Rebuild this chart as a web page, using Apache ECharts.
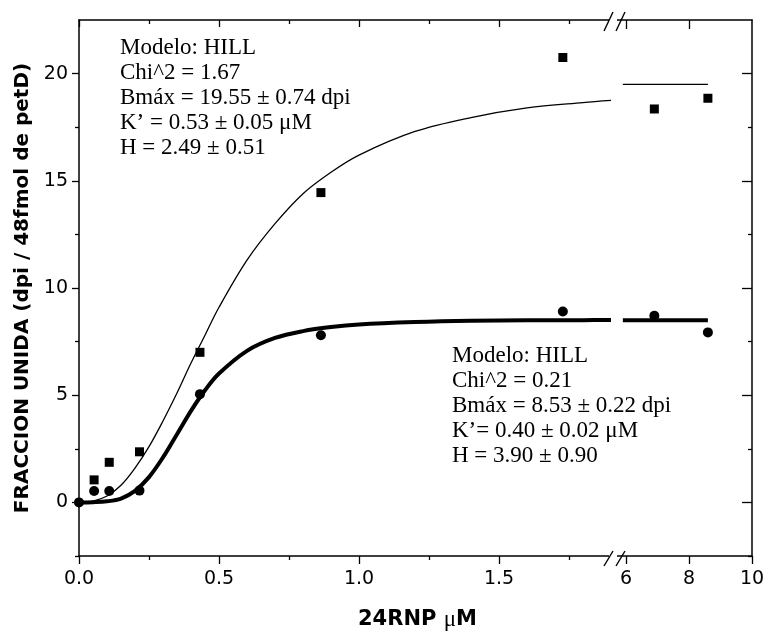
<!DOCTYPE html>
<html>
<head>
<meta charset="utf-8">
<script src="https://cdn.jsdelivr.net/npm/echarts@6/dist/echarts.min.js"></script>
<style>
  html, body { margin: 0; padding: 0; background: #fff; }
  #chart { width: 769px; height: 639px; }
</style>
</head>
<body>
<div id="chart"></div>
<script>
// measured points (24RNP concentration, uM)
var conc = [0, 0.054, 0.108, 0.216, 0.432, 0.864, 1.728, 6.9, 8.6];
var squareVals = [null, 1.05, 1.87, 2.36, 7.0, 14.45, 20.75, 18.35, 18.85];
var circleVals = [0, 0.53, 0.53, 0.55, 5.05, 7.8, 8.9, 8.7, 7.93];

// fitted HILL curves
var fitX = [0, 0.05, 0.1, 0.15, 0.2, 0.25, 0.3, 0.35, 0.4, 0.45, 0.5, 0.6, 0.7, 0.8, 0.9, 1.0, 1.2, 1.4, 1.6, 1.8, 1.9, 5.9, 8.6];
var fitSquare = [0, 0.06, 0.3, 0.8, 1.6, 2.6, 3.8, 5.1, 6.5, 7.8, 9.1, 11.3, 13.0, 14.4, 15.4, 16.2, 17.3, 17.95, 18.4, 18.65, 18.75, 19.5, 19.5];
var fitCircle = [0, 0.01, 0.05, 0.18, 0.54, 1.18, 2.1, 3.18, 4.27, 5.23, 6.01, 7.07, 7.67, 7.99, 8.18, 8.3, 8.41, 8.47, 8.49, 8.5, 8.51, 8.5, 8.5];

// axis ticks / labels
var xTicksLeft = [0, 0.5, 1.0, 1.5];
var xMinorLeft = [0.25, 0.75, 1.25, 1.75];
var xTicksRight = [6, 8, 10];
var yTicks = [0, 5, 10, 15, 20];
var yMinor = [-2.5, 2.5, 7.5, 12.5, 17.5];

var BREAK_LO = 1.9;
var BREAK_HI = 5.524;

function pairs(xs, ys, keep) {
  return xs.map(function (x, i) { return [x, ys[i]]; })
    .filter(function (p) { return p[1] != null && keep(p[0]); });
}
var isLeft = function (x) { return x <= BREAK_LO; };
var isRight = function (x) { return x >= BREAK_HI; };

var FONT = 'DejaVu Sans';
var black = '#000';
var lbl = { color: black, fontFamily: FONT, fontSize: 19 };

function xAx(grid, pos, min, max, ticks, len, inside, line, labels) {
  return {
    type: 'value', gridIndex: grid, position: pos, min: min, max: max,
    axisLine: { show: line, onZero: false, lineStyle: { color: black, width: 1.5 } },
    axisTick: { show: true, customValues: ticks, length: len, inside: inside, lineStyle: { color: black, width: 1.3 } },
    axisLabel: labels ? Object.assign({ customValues: ticks, margin: 14 }, labels) : { show: false },
    splitLine: { show: false }
  };
}
function yAx(grid, pos, ticks, len, inside, line, labels) {
  return {
    type: 'value', gridIndex: grid, position: pos, min: -2.5, max: 22.5,
    axisLine: { show: line, onZero: false, lineStyle: { color: black, width: 1.5 } },
    axisTick: { show: true, customValues: ticks, length: len, inside: inside, lineStyle: { color: black, width: 1.3 } },
    axisLabel: labels ? Object.assign({ customValues: ticks, margin: 11 }, labels) : { show: false },
    splitLine: { show: false }
  };
}

var chart = echarts.init(document.getElementById('chart'));

var yMain = yAx(0, 'left', yTicks, 7, false, true, lbl);
yMain.name = 'FRACCION UNIDA (dpi / 48fmol de petD)';
yMain.nameLocation = 'middle';
yMain.nameGap = 41;
yMain.nameTextStyle = { color: black, fontFamily: FONT, fontWeight: 'bold', fontSize: 20 };

var dot = { color: black, opacity: 1 };
var noteFont = '23px "Liberation Serif"';

var option = {
  animation: false,
  backgroundColor: '#fff',
  grid: [
    { left: 79, top: 20, width: 532, height: 536 },
    { left: 611, top: 20, width: 141, height: 536 }
  ],
  xAxis: [
    xAx(0, 'bottom', 0, BREAK_LO, xTicksLeft, 8, false, true,
      Object.assign({ formatter: function (v) { return v.toFixed(1); } }, lbl)),
    xAx(0, 'bottom', 0, BREAK_LO, xMinorLeft, 4, false, false),
    xAx(0, 'top', 0, BREAK_LO, xTicksLeft, 7, true, true),
    xAx(0, 'top', 0, BREAK_LO, xMinorLeft, 4, true, false),
    xAx(1, 'bottom', BREAK_HI, 10, xTicksRight, 8, false, true, lbl),
    xAx(1, 'top', BREAK_HI, 10, [6, 8], 9, true, true)
  ],
  yAxis: [
    yMain,
    yAx(0, 'left', yMinor, 4, false, false),
    yAx(1, 'right', yTicks, 10, true, true),
    yAx(1, 'right', yMinor, 4, true, false)
  ],
  series: [
    { type: 'line', xAxisIndex: 0, yAxisIndex: 0, data: pairs(fitX, fitSquare, isLeft),
      smooth: 0.35, showSymbol: false, lineStyle: { color: black, width: 1.3 } },
    { type: 'line', xAxisIndex: 0, yAxisIndex: 0, data: pairs(fitX, fitCircle, isLeft),
      smooth: 0.35, showSymbol: false, lineStyle: { color: black, width: 4 } },
    { type: 'line', xAxisIndex: 4, yAxisIndex: 2, data: pairs(fitX, fitSquare, isRight),
      showSymbol: false, lineStyle: { color: black, width: 1.3 } },
    { type: 'line', xAxisIndex: 4, yAxisIndex: 2, data: pairs(fitX, fitCircle, isRight),
      showSymbol: false, lineStyle: { color: black, width: 4 } },
    { type: 'scatter', xAxisIndex: 0, yAxisIndex: 0, data: pairs(conc, squareVals, isLeft),
      symbol: 'rect', symbolSize: 9, itemStyle: dot },
    { type: 'scatter', xAxisIndex: 0, yAxisIndex: 0, data: pairs(conc, circleVals, isLeft),
      symbol: 'circle', symbolSize: 10, itemStyle: dot },
    { type: 'scatter', xAxisIndex: 4, yAxisIndex: 2, data: pairs(conc, squareVals, isRight),
      symbol: 'rect', symbolSize: 9, itemStyle: dot },
    { type: 'scatter', xAxisIndex: 4, yAxisIndex: 2, data: pairs(conc, circleVals, isRight),
      symbol: 'circle', symbolSize: 10, itemStyle: dot }
  ],
  graphic: [
    // axis break marks
    { type: 'rect', z: 100, shape: { x: 609, y: 552, width: 8, height: 8 }, style: { fill: '#fff' } },
    { type: 'rect', z: 100, shape: { x: 609, y: 16, width: 8, height: 8 }, style: { fill: '#fff' } },
    { type: 'line', z: 101, shape: { x1: 604, y1: 566, x2: 613, y2: 551 }, style: { stroke: black, lineWidth: 1.4 } },
    { type: 'line', z: 101, shape: { x1: 616, y1: 566, x2: 625, y2: 551 }, style: { stroke: black, lineWidth: 1.4 } },
    { type: 'line', z: 101, shape: { x1: 604, y1: 31, x2: 613, y2: 12 }, style: { stroke: black, lineWidth: 1.4 } },
    { type: 'line', z: 101, shape: { x1: 616, y1: 31, x2: 625, y2: 12 }, style: { stroke: black, lineWidth: 1.4 } },
    // fit annotations
    { type: 'text', z: 100, left: 120, top: 35,
      style: { text: 'Modelo: HILL\nChi^2 = 1.67\nBmáx = 19.55 ± 0.74 dpi\nK’ = 0.53 ± 0.05 μM\nH = 2.49 ± 0.51',
        fill: black, font: noteFont, lineHeight: 25 } },
    { type: 'text', z: 100, left: 452, top: 343,
      style: { text: 'Modelo: HILL\nChi^2 = 0.21\nBmáx = 8.53 ± 0.22 dpi\nK’= 0.40 ± 0.02 μM\nH = 3.90 ± 0.90',
        fill: black, font: noteFont, lineHeight: 25 } },
    // x axis title
    { type: 'text', z: 100, left: 358, top: 608,
      style: { text: '{a|24RNP }{b|μ}{a|M}',
        rich: {
          a: { fontFamily: FONT, fontWeight: 'bold', fontSize: 21, fill: black },
          b: { fontFamily: 'Liberation Serif', fontSize: 23, fill: black }
        } } }
  ]
};

chart.setOption(option);
</script>
</body>
</html>
